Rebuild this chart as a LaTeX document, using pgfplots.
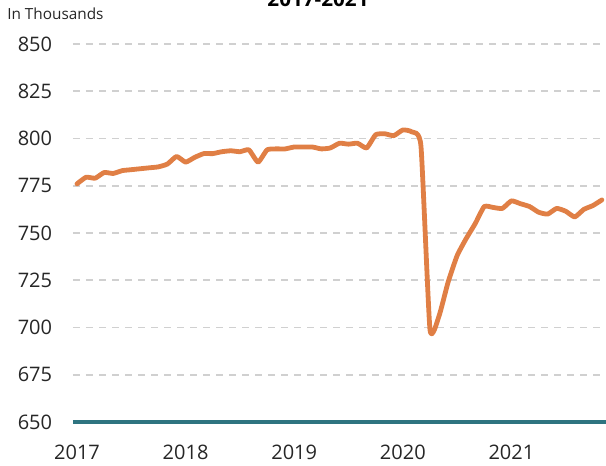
\documentclass[border=0pt]{standalone}
\usepackage{pgfplots}
\pgfplotsset{compat=1.18}
\usepackage{fontspec}
\setmainfont{Open Sans}
\definecolor{lineorange}{HTML}{E07F45}
\definecolor{axisteal}{HTML}{2E7480}
\definecolor{gridgray}{HTML}{D0D0D0}
\begin{document}
\begin{tikzpicture}
\begin{axis}[
  at={(54.75pt,33pt)}, anchor=south west,
  scale only axis,
  width=399.75pt, height=283.5pt,
  xmin=2016.963, xmax=2021.871,
  ymin=650, ymax=850,
  axis line style={draw=none},
  clip=false,
  xtick={2017,2018,2019,2020,2021},
  xticklabels={2017,2018,2019,2020,2021},
  ytick={650,675,700,725,750,775,800,825,850},
  yticklabels={650,675,700,725,750,775,800,825,850},
  major tick length=0pt,
  tick style={draw=none},
  ymajorgrids,
  grid style={gridgray, line width=1.2pt, dash pattern=on 5.25pt off 4.5pt},
  yticklabel style={font=\fontsize{15}{18}\selectfont, anchor=east, inner sep=0pt, xshift=-15.5pt, text=black!85},
  xticklabel style={font=\fontsize{15}{18}\selectfont, anchor=north, inner sep=0pt, yshift=-17pt, text=black!85},
  /pgf/number format/assume math mode=true,
  hide obscured x ticks=false,
]
\draw[axisteal, line width=3pt] (rel axis cs:0,0) -- (rel axis cs:1,0);
\addplot[lineorange, line width=3.6pt, smooth, tension=0.3, line cap=round, line join=round] table {
x y
2017.000 776
2017.083 779.5
2017.167 779
2017.250 782
2017.333 781.5
2017.417 783
2017.500 783.5
2017.583 784
2017.667 784.5
2017.750 785
2017.833 786.5
2017.917 790.5
2018.000 787.5
2018.083 790
2018.167 792
2018.250 792
2018.333 793
2018.417 793.5
2018.500 793
2018.583 794
2018.667 787.5
2018.750 794
2018.833 794.5
2018.917 794.5
2019.000 795.5
2019.083 795.5
2019.167 795.5
2019.250 794.5
2019.333 795
2019.417 797.5
2019.500 797
2019.583 797.5
2019.667 795
2019.750 802
2019.833 802.5
2019.917 801.5
2020.000 804.5
2020.083 803.5
2020.167 796
2020.250 699
2020.333 706
2020.417 724
2020.500 738
2020.583 747
2020.667 755
2020.750 764
2020.833 763.5
2020.917 763
2021.000 767
2021.083 765.5
2021.167 764
2021.250 761
2021.333 760
2021.417 763
2021.500 761.5
2021.583 758.5
2021.667 762.5
2021.750 764.5
2021.833 767.5
};
\end{axis}
\node[anchor=base west, inner sep=0pt, font=\fontsize{11.5}{14}\selectfont, text=black!85] at (5.25pt,334.5pt) {In Thousands};
\node[anchor=base, inner sep=0pt, font=\fontsize{15.5}{18}\selectfont\bfseries] at (238.5pt,344.5pt) {2017-2021};
\pgfresetboundingbox
\useasboundingbox (0,0) rectangle (454.5pt,349.5pt);
\end{tikzpicture}
\end{document}
